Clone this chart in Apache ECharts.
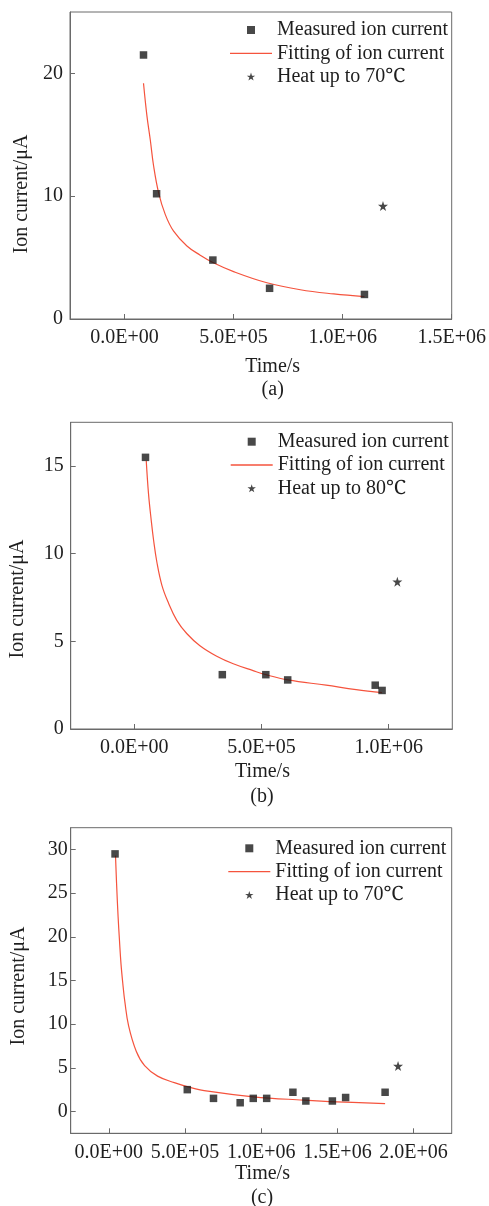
<!DOCTYPE html>
<html>
<head>
<meta charset="utf-8">
<script src="https://cdn.jsdelivr.net/npm/echarts@6/dist/echarts.min.js"></script>
<style>
html,body{margin:0;padding:0;background:#fff;}
#chart{width:489px;height:1206px;}
</style>
</head>
<body>
<div id="chart"></div>
<script>
// ---------- data ----------
// Panel (a)
const aMeasX = [8.7e4, 1.47e5, 4.05e5, 6.65e5, 1.10e6];
const aMeasY = [21.5, 10.2, 4.8, 2.5, 2.0];
const aHeatX = [1.185e6];
const aHeatY = [9.2];
const aFitX = [8.7e4, 1.03e5, 1.18e5, 1.33e5, 1.56e5, 1.87e5, 2.25e5, 2.86e5, 3.47e5, 4.05e5, 5.0e5, 6.53e5, 8.06e5, 9.59e5, 1.10e6];
const aFitY = [19.2, 16.5, 14.6, 12.5, 10.3, 8.5, 7.15, 5.95, 5.2, 4.6, 3.86, 2.95, 2.38, 2.04, 1.82];
// Panel (b)
const bMeasX = [4.4e4, 3.46e5, 5.17e5, 6.03e5, 9.47e5, 9.74e5];
const bMeasY = [15.5, 3.1, 3.1, 2.8, 2.5, 2.2];
const bHeatX = [1.034e6];
const bHeatY = [8.4];
const bFitX = [4.7e4, 5.6e4, 6.66e4, 7.56e4, 8.9e4, 1.085e5, 1.34e5, 1.67e5, 2.06e5, 2.58e5, 3.24e5, 3.89e5, 4.67e5, 5.17e5, 6.04e5, 7.54e5, 8.72e5, 9.74e5];
const bFitY = [15.3, 13.4, 11.9, 10.8, 9.5, 8.2, 7.2, 6.2, 5.45, 4.75, 4.15, 3.72, 3.33, 3.1, 2.8, 2.5, 2.25, 2.08];
// Panel (c)
const cMeasX = [4.1e4, 5.15e5, 6.87e5, 8.62e5, 9.48e5, 1.036e6, 1.208e6, 1.293e6, 1.467e6, 1.554e6, 1.813e6];
const cMeasY = [29.5, 2.5, 1.5, 1.0, 1.5, 1.5, 2.2, 1.2, 1.2, 1.6, 2.2];
const cHeatX = [1.898e6];
const cHeatY = [5.2];
const cFitX = [4.4e4, 5.1e4, 6.1e4, 7.0e4, 8.0e4, 9.4e4, 1.05e5, 1.3e5, 1.8e5, 2.35e5, 3.2e5, 4.3e5, 5.2e5, 6.5e5, 9.48e5, 1.277e6, 1.496e6, 1.813e6];
const cFitY = [29.3, 26.1, 22.3, 19.6, 16.9, 14.3, 12.6, 9.8, 6.9, 5.25, 4.05, 3.3, 2.82, 2.32, 1.68, 1.3, 1.1, 0.91];

// tick values
const aXTicks = [0, 5e5, 1e6, 1.5e6];
const aYTicks = [0, 10, 20];
const bXTicks = [0, 5e5, 1e6];
const bYTicks = [0, 5, 10, 15];
const cXTicks = [0, 5e5, 1e6, 1.5e6, 2e6];
const cYTicks = [0, 5, 10, 15, 20, 25, 30];

const NAME_MEAS = 'Measured ion current';
const NAME_FIT = 'Fitting of ion current';
const NAME_HEAT70 = 'Heat up to 70\u2103';
const NAME_HEAT80 = 'Heat up to 80\u2103';
const X_NAME = 'Time/s';
const Y_NAME = 'Ion current/\u03bcA';
const PANEL_TAGS = ['(a)', '(b)', '(c)'];

// ---------- styling ----------
const FONT = '"Liberation Serif", "Times New Roman", "Noto Serif", "Noto Sans CJK SC", serif';
const TXT = '#1e1e1e';
const FRAME = '#6a6a6a';
const RED = '#f5533d';
const SQUARE = 'path://M0,0H10V10H0Z';
const STAR = 'path://M5,0L6.18,3.6L10,3.6L6.9,5.85L8.1,9.5L5,7.25L1.9,9.5L3.1,5.85L0,3.6L3.82,3.6Z';
const LINE_ICON = 'path://M0,0H420V13H0Z';

function sci(v) {
  if (v === 0) return '0.0E+00';
  const e = Math.floor(Math.log10(Math.abs(v)) + 1e-9);
  const m = v / Math.pow(10, e);
  return m.toFixed(1) + 'E+' + String(e).padStart(2, '0');
}
function zip(xs, ys) { return xs.map((x, i) => [x, ys[i]]); }

const grids = [
  {left: 70, top: 12, width: 381.7, height: 307},
  {left: 70.7, top: 422.3, width: 381.6, height: 306.7},
  {left: 70.7, top: 827.7, width: 381, height: 305.6}
].map(g => Object.assign({show: true, borderColor: FRAME, borderWidth: 1, backgroundColor: 'transparent'}, g));

function xAxis(idx, min, max, ticks) {
  return {
    type: 'value', gridIndex: idx, min: min, max: max,
    axisLine: {show: true, onZero: false, lineStyle: {color: FRAME, width: 1}},
    axisTick: {show: true, inside: true, length: 5, customValues: ticks, lineStyle: {color: FRAME}},
    axisLabel: {show: true, customValues: ticks, margin: 9, color: TXT, fontFamily: FONT, fontSize: 20,
      showMinLabel: true, showMaxLabel: true, hideOverlap: false, formatter: sci},
    splitLine: {show: false}
  };
}
function yAxis(idx, min, max, ticks, margin) {
  return {
    type: 'value', gridIndex: idx, min: min, max: max,
    axisLine: {show: true, onZero: false, lineStyle: {color: FRAME, width: 1}},
    axisTick: {show: true, inside: true, length: 5, customValues: ticks, lineStyle: {color: FRAME}},
    axisLabel: {show: true, customValues: ticks, margin: margin, color: TXT, fontFamily: FONT, fontSize: 20,
      showMinLabel: true, showMaxLabel: true, hideOverlap: false},
    splitLine: {show: false}
  };
}

function panelSeries(idx, measX, measY, fitX, fitY, heatX, heatY, heatName) {
  return [
    {name: NAME_MEAS, type: 'scatter', xAxisIndex: idx, yAxisIndex: idx, symbol: SQUARE, symbolSize: 7.5,
      itemStyle: {color: '#1a1a1a'}, data: zip(measX, measY), z: 3},
    {name: NAME_FIT, type: 'line', xAxisIndex: idx, yAxisIndex: idx, symbol: 'none', smooth: 0.4,
      lineStyle: {color: RED, width: 1.2}, itemStyle: {color: RED},
      data: zip(fitX, fitY), z: 2},
    {name: heatName, type: 'scatter', xAxisIndex: idx, yAxisIndex: idx, symbol: STAR, symbolSize: 10,
      itemStyle: {color: '#1a1a1a'}, data: zip(heatX, heatY), z: 3}
  ];
}

function legend(left, top, heatName) {
  return {
    orient: 'vertical', left: left, top: top, padding: 0, itemGap: 3.3,
    itemWidth: 42, itemHeight: 8, symbolKeepAspect: true, selectedMode: false,
    textStyle: {color: TXT, fontFamily: FONT, fontSize: 20, lineHeight: 20},
    data: [
      {name: NAME_MEAS, icon: SQUARE},
      {name: NAME_FIT, icon: LINE_ICON},
      {name: heatName, icon: STAR}
    ]
  };
}

function txt(x, y, s, rot) {
  return {type: 'text', x: x, y: y, rotation: rot || 0,
    style: {text: s, fill: TXT, font: '20px ' + FONT, align: 'center', verticalAlign: 'middle'}};
}

const option = {
  backgroundColor: '#fff',
  animation: false,
  grid: grids,
  xAxis: [
    xAxis(0, -2.5e5, 1.5e6, aXTicks),
    xAxis(1, -2.5e5, 1.25e6, bXTicks),
    xAxis(2, -2.5e5, 2.25e6, cXTicks)
  ],
  yAxis: [
    yAxis(0, 0, 25, aYTicks, 7),
    yAxis(1, 0, 17.5, bYTicks, 7),
    yAxis(2, -2.5, 32.5, cYTicks, 3)
  ],
  legend: [
    legend(230, 20, NAME_HEAT70),
    legend(230.7, 431.7, NAME_HEAT80),
    legend(228.3, 838.3, NAME_HEAT70)
  ],
  series: [].concat(
    panelSeries(0, aMeasX, aMeasY, aFitX, aFitY, aHeatX, aHeatY, NAME_HEAT70),
    panelSeries(1, bMeasX, bMeasY, bFitX, bFitY, bHeatX, bHeatY, NAME_HEAT80),
    panelSeries(2, cMeasX, cMeasY, cFitX, cFitY, cHeatX, cHeatY, NAME_HEAT70)
  ),
  graphic: [
    txt(272.7, 366.5, X_NAME), txt(272.7, 390, PANEL_TAGS[0]), txt(21.7, 194, Y_NAME, Math.PI / 2),
    txt(262.5, 771.7, X_NAME), txt(262, 796.7, PANEL_TAGS[1]), txt(17.5, 599, Y_NAME, Math.PI / 2),
    txt(262.5, 1174, X_NAME), txt(262, 1197.5, PANEL_TAGS[2]), txt(19, 986, Y_NAME, Math.PI / 2)
  ]
};

const chart = echarts.init(document.getElementById('chart'), null, {renderer: 'canvas'});
chart.setOption(option);
</script>
</body>
</html>
